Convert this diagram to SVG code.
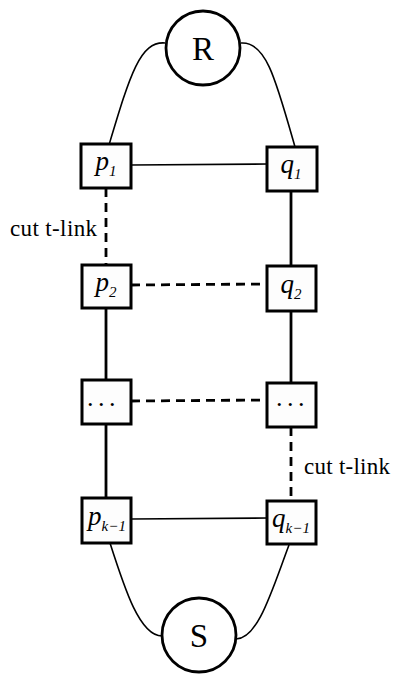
<svg xmlns="http://www.w3.org/2000/svg" width="393" height="675" viewBox="0 0 393 675">
<style>
.box{fill:#fdfdfd;stroke:#000;stroke-width:3}
.circ{fill:#fff;stroke:#000;stroke-width:2.8}
.thin{fill:none;stroke:#000;stroke-width:1.6}
.thick{fill:none;stroke:#000;stroke-width:2.8}
.dash{fill:none;stroke:#000;stroke-width:2.8;stroke-dasharray:9 6}
.lbl{font-family:"Liberation Serif","Times New Roman",serif;font-style:italic;font-size:27px;text-anchor:middle}
.sub{font-size:15px}
.big{font-family:"Liberation Serif","Times New Roman",serif;font-size:33px;text-anchor:middle}
.dots{font-family:"Liberation Serif","Times New Roman",serif;font-size:26px;letter-spacing:4.5px}
.cut{font-family:"Liberation Serif","Times New Roman",serif;font-size:23px}
</style>
<g id="connectors">
<path class="thin" d="M165,43 C140,41 130,75 109,145"/>
<path class="thin" d="M241,43 C266,41 276,80 295,147"/>
<path class="thin" d="M110,543 C125,590 140,636 162,636"/>
<path class="thin" d="M289,545 C272,590 258,639 236,639"/>
<line class="thin" x1="131" y1="165" x2="267" y2="164"/>
<line class="thin" x1="131" y1="519" x2="267" y2="518"/>
<line class="dash" x1="106" y1="188" x2="106" y2="265"/>
<line class="thick" x1="291" y1="191" x2="291" y2="266"/>
<line class="dash" x1="131" y1="285" x2="267" y2="284"/>
<line class="thick" x1="106" y1="308" x2="106" y2="380"/>
<line class="thick" x1="291" y1="311" x2="291" y2="383"/>
<line class="dash" x1="131" y1="401" x2="267" y2="400"/>
<line class="thick" x1="106" y1="424" x2="106" y2="498"/>
<line class="dash" x1="291" y1="427" x2="291" y2="501"/>
</g>
<g id="R"><circle class="circ" cx="203" cy="48" r="37"/><text class="big" x="203" y="60">R</text></g>
<g id="S"><circle class="circ" cx="199" cy="635" r="37"/><text class="big" x="199" y="647">S</text></g>
<g id="p1"><rect class="box" x="81" y="144" width="50" height="44"/><text class="lbl" x="106" y="170">p<tspan class="sub" dy="6">1</tspan></text></g>
<g id="q1"><rect class="box" x="267" y="147" width="50" height="44"/><text class="lbl" x="291" y="173">q<tspan class="sub" dy="6">1</tspan></text></g>
<g id="p2"><rect class="box" x="82" y="265" width="49" height="43"/><text class="lbl" x="106" y="291">p<tspan class="sub" dy="6">2</tspan></text></g>
<g id="q2"><rect class="box" x="267" y="266" width="49" height="45"/><text class="lbl" x="291" y="293">q<tspan class="sub" dy="6">2</tspan></text></g>
<g id="p3"><rect class="box" x="82" y="380" width="49" height="44"/><text class="dots" x="87" y="406">...</text></g>
<g id="q3"><rect class="box" x="267" y="383" width="49" height="44"/><text class="dots" x="276" y="406">...</text></g>
<g id="pk"><rect class="box" x="82" y="498" width="49" height="45"/><text class="lbl" x="107" y="525">p<tspan class="sub" dy="6">k−1</tspan></text></g>
<g id="qk"><rect class="box" x="267" y="501" width="49" height="43"/><text class="lbl" x="291" y="527">q<tspan class="sub" dy="6">k−1</tspan></text></g>
<g id="labels">
<text class="cut" x="10" y="236" textLength="87">cut t-link</text>
<text class="cut" x="304" y="474" textLength="86">cut t-link</text>
</g>
</svg>
